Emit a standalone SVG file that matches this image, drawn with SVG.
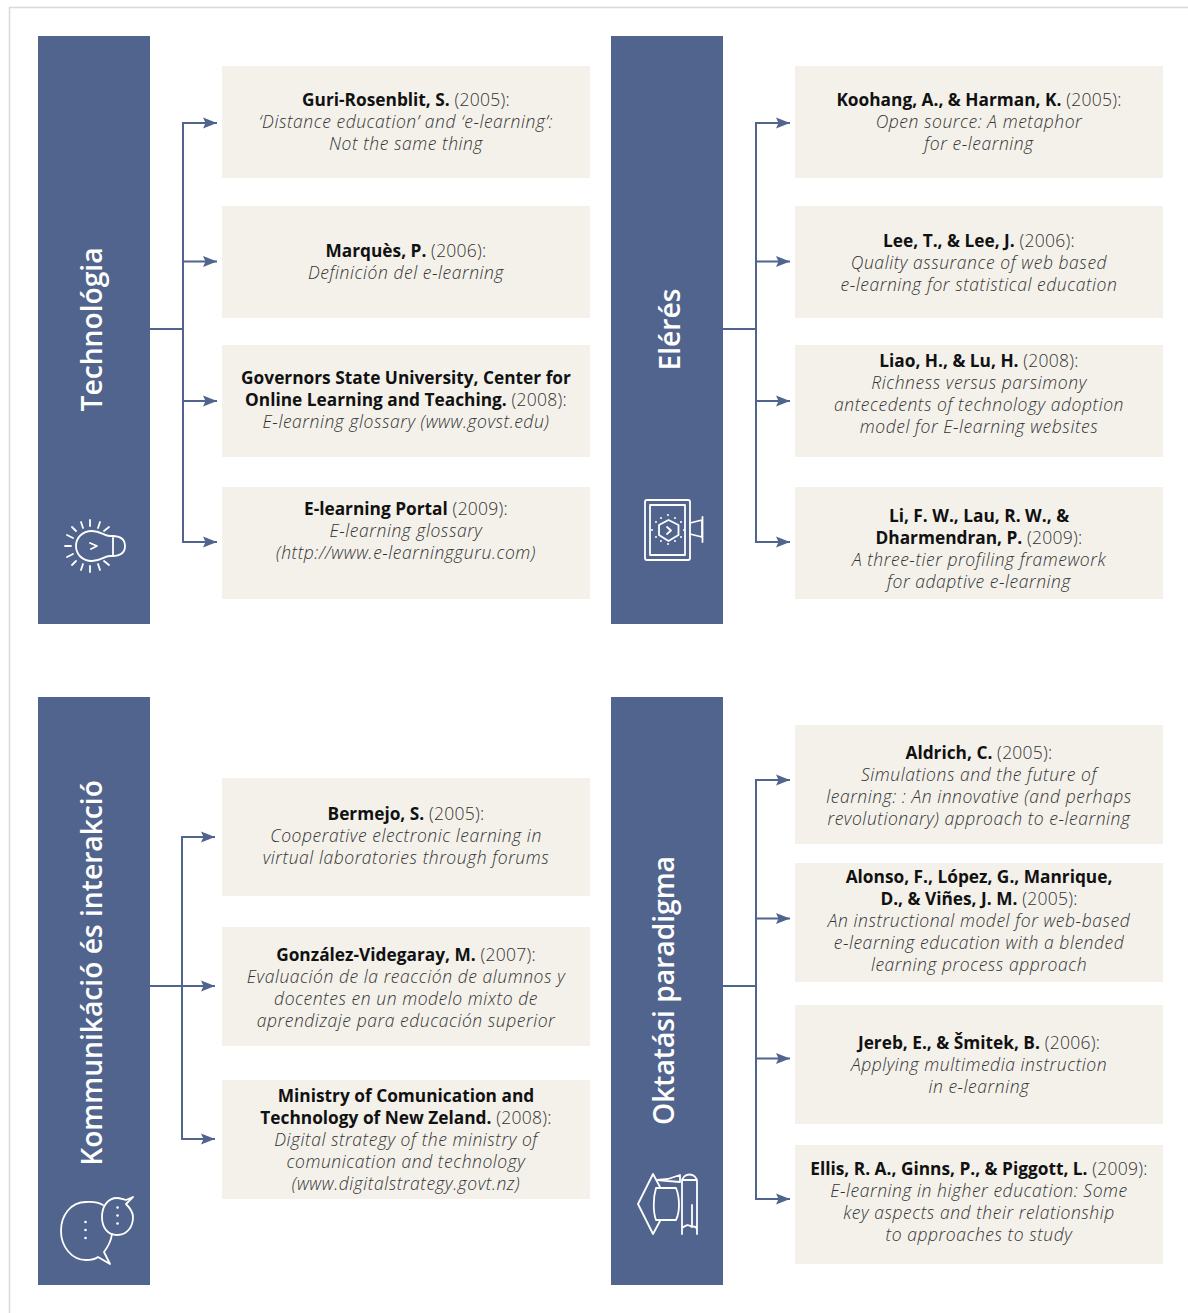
<svg xmlns="http://www.w3.org/2000/svg" width="1188" height="1313" viewBox="0 0 1188 1313">
<style>
text{font-family:"Open Sans","Liberation Sans",sans-serif}
.card{fill:#f4f1eb}
.bar{fill:#51648d}
.t{font-size:17.5px;fill:#333;text-anchor:middle;font-weight:300;letter-spacing:.25px;transform:translateY(.5px)}
.b{font-weight:700;fill:#111;font-size:17.3px;letter-spacing:0}
.i{font-style:italic;letter-spacing:.55px}
.v{font-size:28.2px;font-weight:600;fill:#fff;text-anchor:middle}
.c{fill:none;stroke:#51648d;stroke-width:2}
.ic{fill:none;stroke:#fff;stroke-width:1.8;stroke-linecap:round;stroke-linejoin:round}
.d{fill:#fff}
</style>
<defs><marker id="a" markerUnits="userSpaceOnUse" markerWidth="16" markerHeight="13" refX="14" refY="6" orient="auto"><path d="M0 .5L14 6L0 11.500L2.500 6Z" fill="#51648d"/></marker></defs>
<rect width="1188" height="1313" fill="#fff"/>
<path d="M9.500 1313V7.500H1188" fill="none" stroke="#d9d9d9" stroke-width="1.500"/>
<g id="connectors">
<path class="c" d="M150 329H183"/><path class="c" d="M217 123H183V542H217" marker-end="url(#a)"/>
<path class="c" d="M183 123H217" marker-end="url(#a)"/><path class="c" d="M183 261.500H217" marker-end="url(#a)"/><path class="c" d="M183 401H217" marker-end="url(#a)"/>
<path class="c" d="M723 329H756"/><path class="c" d="M790 123H756V542H790" marker-end="url(#a)"/>
<path class="c" d="M756 123H790" marker-end="url(#a)"/><path class="c" d="M756 261.500H790" marker-end="url(#a)"/><path class="c" d="M756 401H790" marker-end="url(#a)"/>
<path class="c" d="M150 986H215" marker-end="url(#a)"/><path class="c" d="M215 837H182V1139H215" marker-end="url(#a)"/>
<path class="c" d="M182 837H215" marker-end="url(#a)"/>
<path class="c" d="M723 986H756"/><path class="c" d="M790 780H756V1199H790" marker-end="url(#a)"/>
<path class="c" d="M756 780H790" marker-end="url(#a)"/><path class="c" d="M756 918.500H790" marker-end="url(#a)"/><path class="c" d="M756 1058.500H790" marker-end="url(#a)"/>
</g>
<g id="bar-technologia"><rect class="bar" x="38" y="36" width="112" height="588"/>
<text class="v" transform="translate(102 329.500) rotate(-90)">Technológia</text>
<g class="ic"><path d="M110 536H112C122 536 125 541 125 546C125 551 122 556 112 556H110C104 556 101 561 92 561C82 561 76 554 76 546C76 538 82 531 92 531C101 531 104 536 110 536ZM113 536V556"/><path d="M90 543L97 546L91 549"/><path d="M65 546H71M67 535L73 538M72 527L76 531M81 522L83 528M90 520V526M100 522L98 528M109 527L104 531M67 557L73 554M72 565L76 561M81 570L83 564M90 572V566M100 570L98 564M109 565L104 561"/></g></g>
<g id="bar-eleres"><rect class="bar" x="611" y="36" width="112" height="588"/>
<text class="v" transform="translate(680 329.500) rotate(-90)">Elérés</text>
<g class="ic"><rect x="645" y="500" width="45" height="60" rx="2"/><rect x="650" y="505" width="35" height="50"/><path d="M668.500 520L678.500 525V535L668.500 541L659 535V525Z"/><path d="M667 527L671 530.500L667 534"/><path d="M690 523L702 520V537L690 534M702.500 517V542"/></g>
<g class="d"><circle cx="668" cy="515" r="1"/><circle cx="668" cy="544" r="1"/><circle cx="656" cy="522" r="1"/><circle cx="681" cy="522" r="1"/><circle cx="656" cy="537" r="1"/><circle cx="681" cy="537" r="1"/><circle cx="652" cy="530" r="1"/><circle cx="684" cy="530" r="1"/><circle cx="661" cy="518" r="1"/><circle cx="675" cy="518" r="1"/><circle cx="661" cy="541" r="1"/><circle cx="675" cy="541" r="1"/></g></g>
<g id="bar-kommunikacio"><rect class="bar" x="38" y="697" width="112" height="588"/>
<text class="v" transform="translate(102 973) rotate(-90)">Kommunikáció és interakció</text>
<g class="ic"><path d="M103 1205C96 1201 91 1202 86 1202C71 1202 61 1215 61 1231C61 1247 72 1260 86 1260C89 1260 94 1260 98 1257L110 1264L104 1252C107 1248 111 1242 112 1234"/><path d="M126 1204L133 1197L126 1200C122 1199 119 1198 117 1198C108 1198 102 1206 102 1217C102 1228 108 1235 117 1235C127 1235 133 1227 133 1217C133 1212 130 1208 126 1204Z"/></g>
<g class="d"><circle cx="85.500" cy="1222" r="1.300"/><circle cx="85.500" cy="1230" r="1.300"/><circle cx="85.500" cy="1238" r="1.300"/><circle cx="117.500" cy="1207.500" r="1.300"/><circle cx="117.500" cy="1215.500" r="1.300"/><circle cx="117.500" cy="1223.500" r="1.300"/></g></g>
<g id="bar-oktatasi"><rect class="bar" x="611" y="697" width="112" height="588"/>
<text class="v" transform="translate(674 990.500) rotate(-90)">Oktatási paradigma</text>
<g class="ic"><path d="M653 1174L638 1204L653 1234L660 1221M653 1174L660 1187"/><path d="M656 1188C653 1198 653 1212 656 1220H676C680 1212 680 1198 676 1188Z"/><path d="M657 1180L668 1179L680 1175V1182L668 1181Z"/><path d="M682 1234V1182C682 1172 697 1172 697 1182V1234M682 1180H697M692 1205V1227C688 1224 686 1225 682 1228M692 1227C694 1226 696 1227 697 1229"/></g></g>
<g id="card-1"><rect class="card" x="222" y="66" width="368" height="112"/><text class="t" x="406" y="105"><tspan class="b">Guri-Rosenblit, S.</tspan> (2005):</text><text class="t i" x="406" y="127">‘Distance education’ and ‘e-learning’:</text><text class="t i" x="406" y="149">Not the same thing</text></g>
<g id="card-2"><rect class="card" x="222" y="206" width="368" height="112"/><text class="t" x="406" y="256"><tspan class="b">Marquès, P.</tspan> (2006):</text><text class="t i" x="406" y="278">Definición del e-learning</text></g>
<g id="card-3"><rect class="card" x="222" y="345" width="368" height="112"/><text class="t b" x="406" y="383">Governors State University, Center for</text><text class="t" x="406" y="405"><tspan class="b">Online Learning and Teaching.</tspan> (2008):</text><text class="t i" x="406" y="427">E-learning glossary (www.govst.edu)</text></g>
<g id="card-4"><rect class="card" x="222" y="487" width="368" height="112"/><text class="t" x="406" y="514"><tspan class="b">E-learning Portal</tspan> (2009):</text><text class="t i" x="406" y="536">E-learning glossary</text><text class="t i" x="406" y="558">(http://www.e-learningguru.com)</text></g>
<g id="card-5"><rect class="card" x="795" y="66" width="368" height="112"/><text class="t" x="979" y="105"><tspan class="b">Koohang, A., &amp; Harman, K.</tspan> (2005):</text><text class="t i" x="979" y="127">Open source: A metaphor</text><text class="t i" x="979" y="149">for e-learning</text></g>
<g id="card-6"><rect class="card" x="795" y="206" width="368" height="112"/><text class="t" x="979" y="246"><tspan class="b">Lee, T., &amp; Lee, J.</tspan> (2006):</text><text class="t i" x="979" y="268">Quality assurance of web based</text><text class="t i" x="979" y="290">e-learning for statistical education</text></g>
<g id="card-7"><rect class="card" x="795" y="345" width="368" height="112"/><text class="t" x="979" y="366"><tspan class="b">Liao, H., &amp; Lu, H.</tspan> (2008):</text><text class="t i" x="979" y="388">Richness versus parsimony</text><text class="t i" x="979" y="410">antecedents of technology adoption</text><text class="t i" x="979" y="432">model for E-learning websites</text></g>
<g id="card-8"><rect class="card" x="795" y="487" width="368" height="112"/><text class="t b" x="979" y="521">Li, F. W., Lau, R. W., &amp;</text><text class="t" x="979" y="543"><tspan class="b">Dharmendran, P.</tspan> (2009):</text><text class="t i" x="979" y="565">A three-tier profiling framework</text><text class="t i" x="979" y="587">for adaptive e-learning</text></g>
<g id="card-9"><rect class="card" x="222" y="778" width="368" height="118"/><text class="t" x="406" y="819"><tspan class="b">Bermejo, S.</tspan> (2005):</text><text class="t i" x="406" y="841">Cooperative electronic learning in</text><text class="t i" x="406" y="863">virtual laboratories through forums</text></g>
<g id="card-10"><rect class="card" x="222" y="927" width="368" height="119"/><text class="t" x="406" y="960"><tspan class="b">González-Videgaray, M.</tspan> (2007):</text><text class="t i" x="406" y="982">Evaluación de la reacción de alumnos y</text><text class="t i" x="406" y="1004">docentes en un modelo mixto de</text><text class="t i" x="406" y="1026">aprendizaje para educación superior</text></g>
<g id="card-11"><rect class="card" x="222" y="1080" width="368" height="119"/><text class="t b" x="406" y="1101">Ministry of Comunication and</text><text class="t" x="406" y="1123"><tspan class="b">Technology of New Zeland.</tspan> (2008):</text><text class="t i" x="406" y="1145">Digital strategy of the ministry of</text><text class="t i" x="406" y="1167">comunication and technology</text><text class="t i" x="406" y="1189">(www.digitalstrategy.govt.nz)</text></g>
<g id="card-12"><rect class="card" x="795" y="725" width="368" height="119"/><text class="t" x="979" y="758"><tspan class="b">Aldrich, C.</tspan> (2005):</text><text class="t i" x="979" y="780">Simulations and the future of</text><text class="t i" x="979" y="802">learning: : An innovative (and perhaps</text><text class="t i" x="979" y="824">revolutionary) approach to e-learning</text></g>
<g id="card-13"><rect class="card" x="795" y="863" width="368" height="119"/><text class="t b" x="979" y="882">Alonso, F., López, G., Manrique,</text><text class="t" x="979" y="904"><tspan class="b">D., &amp; Viñes, J. M.</tspan> (2005):</text><text class="t i" x="979" y="926">An instructional model for web-based</text><text class="t i" x="979" y="948">e-learning education with a blended</text><text class="t i" x="979" y="970">learning process approach</text></g>
<g id="card-14"><rect class="card" x="795" y="1005" width="368" height="119"/><text class="t" x="979" y="1048"><tspan class="b">Jereb, E., &amp; Šmitek, B.</tspan> (2006):</text><text class="t i" x="979" y="1070">Applying multimedia instruction</text><text class="t i" x="979" y="1092">in e-learning</text></g>
<g id="card-15"><rect class="card" x="795" y="1145" width="368" height="119"/><text class="t" x="979" y="1174"><tspan class="b">Ellis, R. A., Ginns, P., &amp; Piggott, L.</tspan> (2009):</text><text class="t i" x="979" y="1196">E-learning in higher education: Some</text><text class="t i" x="979" y="1218">key aspects and their relationship</text><text class="t i" x="979" y="1240">to approaches to study</text></g>
</svg>
